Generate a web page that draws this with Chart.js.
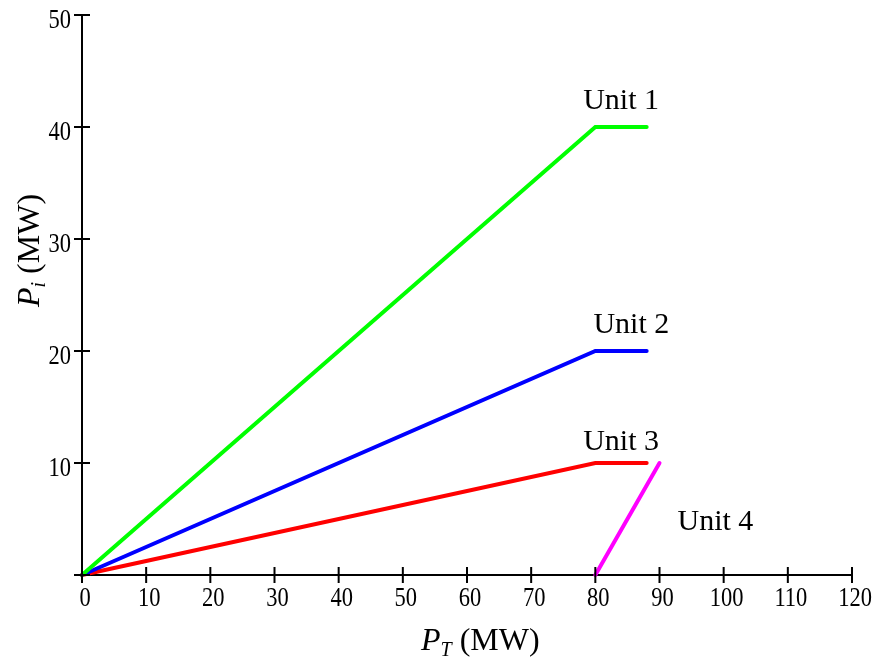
<!DOCTYPE html>
<html>
<head>
<meta charset="utf-8">
<script src="https://cdn.jsdelivr.net/npm/chart.js@4/dist/chart.umd.min.js"></script>
<style>
  html, body { margin: 0; padding: 0; background: #fff; }
  #wrap { width: 877px; height: 662px; }
</style>
</head>
<body>
<div id="wrap"><canvas id="chart" width="877" height="662"></canvas></div>
<script>
const SERIF = '"Liberation Serif", "Times New Roman", serif';

// series: P_T (MW) -> P_i (MW)
const unit1X = [0, 80, 88], unit1Y = [0, 40, 40];
const unit2X = [0, 80, 88], unit2Y = [0, 20, 20];
const unit3X = [0, 80, 88], unit3Y = [0, 10, 10];
const unit4X = [80, 90],    unit4Y = [0, 10];

const unitNames = ["Unit 1", "Unit 2", "Unit 3", "Unit 4"];
const unitColors = ["#00ff00", "#0000ff", "#ff0000", "#ff00ff"];
// where the unit names sit, in data units
const nameX = [78.1, 79.7, 78.1, 92.8];
const nameY = [41.6, 21.6, 11.2, 4.0];

const xTicks = [0, 10, 20, 30, 40, 50, 60, 70, 80, 90, 100, 110, 120];
const yTicks = [0, 10, 20, 30, 40, 50];
const yTickLabels = ["", "10", "20", "30", "40", "50"];

const pts = (xs, ys) => xs.map((x, i) => ({ x, y: ys[i] }));
const series = [pts(unit1X, unit1Y), pts(unit2X, unit2Y), pts(unit3X, unit3Y), pts(unit4X, unit4Y)];

// cross ticks, tick labels (a bit tall, like the original), unit names, axis titles
const decor = {
  id: "decor",
  afterDraw(chart) {
    const { ctx, scales: { x, y } } = chart;
    const x0 = x.getPixelForValue(0), y0 = y.getPixelForValue(0);
    ctx.save();
    ctx.strokeStyle = "#000";
    ctx.lineWidth = 2;
    ctx.beginPath();
    xTicks.forEach((v) => { const p = x.getPixelForValue(v); ctx.moveTo(p, y0 - 8); ctx.lineTo(p, y0 + 8); });
    yTicks.forEach((v) => { const p = y.getPixelForValue(v); ctx.moveTo(x0 - 8, p); ctx.lineTo(x0 + 8, p); });
    ctx.stroke();

    ctx.fillStyle = "#000";
    ctx.textBaseline = "alphabetic";
    ctx.font = "22.5px " + SERIF;
    const tall = (txt, px, py, align) => {
      ctx.save();
      ctx.textAlign = align;
      ctx.translate(px, py);
      ctx.scale(1, 1.22);
      ctx.fillText(txt, 0, 0);
      ctx.restore();
    };
    xTicks.forEach((v) => tall(String(v), x.getPixelForValue(v) + 3, y0 + 31, "center"));
    yTicks.forEach((v, i) => tall(yTickLabels[i], x0 - 11, y.getPixelForValue(v) + 13, "right"));

    ctx.textAlign = "left";
    ctx.font = "30px " + SERIF;
    unitNames.forEach((t, i) => ctx.fillText(t, x.getPixelForValue(nameX[i]), y.getPixelForValue(nameY[i])));

    const title = (sub) => {
      ctx.font = "italic 32px " + SERIF;
      ctx.fillText("P", 0, 0);
      let w = ctx.measureText("P").width;
      ctx.font = "italic 20px " + SERIF;
      ctx.fillText(sub, w, 6);
      w += ctx.measureText(sub).width;
      ctx.font = "32px " + SERIF;
      ctx.fillText(" (MW)", w, 0);
    };
    ctx.save();
    ctx.translate(421, 650);
    title("T");
    ctx.restore();
    ctx.save();
    ctx.translate(39, 307);
    ctx.rotate(-Math.PI / 2);
    title("i");
    ctx.restore();
    ctx.restore();
  },
};

new Chart(document.getElementById("chart"), {
  type: "line",
  data: {
    datasets: series.map((d, i) => ({
      label: unitNames[i],
      data: d,
      borderColor: unitColors[i],
      backgroundColor: unitColors[i],
      borderWidth: 4,
      borderCapStyle: "round",
      pointRadius: 0,
      tension: 0,
      clip: false,
    })),
  },
  options: {
    responsive: false,
    animation: false,
    events: [],
    layout: { padding: { top: 15, right: 25, left: 0, bottom: 0 } },
    plugins: { legend: { display: false }, tooltip: { enabled: false } },
    scales: {
      x: {
        type: "linear",
        position: "bottom",
        min: 0,
        max: 120,
        afterBuildTicks: (s) => { s.ticks = xTicks.map((v) => ({ value: v })); },
        afterFit: (s) => { s.height = 87; s.paddingLeft = 0; s.paddingRight = 0; },
        grid: { drawOnChartArea: false, drawTicks: false, color: "#000", lineWidth: 2 },
        border: { display: true, color: "#000", width: 2 },
        ticks: { display: false },
      },
      y: {
        type: "linear",
        position: "left",
        min: 0,
        max: 50,
        afterBuildTicks: (s) => { s.ticks = yTicks.map((v) => ({ value: v })); },
        afterFit: (s) => { s.width = 82; s.paddingTop = 0; s.paddingBottom = 0; },
        grid: { drawOnChartArea: false, drawTicks: false, color: "#000", lineWidth: 2 },
        border: { display: true, color: "#000", width: 2 },
        ticks: { display: false },
      },
    },
  },
  plugins: [decor],
});
</script>
</body>
</html>
